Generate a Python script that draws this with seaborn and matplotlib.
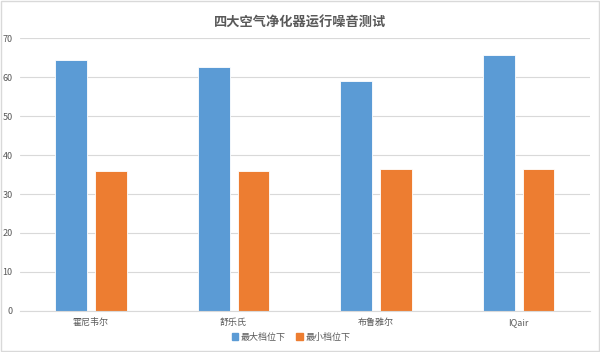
import seaborn as sns
import matplotlib.pyplot as plt
import matplotlib.patches as mpatches
import pandas as pd

brands = ['霍尼韦尔', '舒乐氏', '布鲁雅尔', 'IQair']
series = ['最大档位下', '最小档位下']
max_level = [64.3, 62.5, 58.9, 65.6]
min_level = [35.8, 35.8, 36.4, 36.4]
colors = ['#5B9BD5', '#ED7D31']

df = pd.DataFrame({
    'brand': brands * 2,
    'series': [series[0]] * 4 + [series[1]] * 4,
    'noise': max_level + min_level,
})

sns.set_style('white')
plt.rcParams['font.family'] = ['Noto Sans CJK SC', 'DejaVu Sans']

fig = plt.figure(figsize=(6, 3.52), dpi=100)
ax = fig.add_axes([0.033, 0.1165, 0.95, 0.7755])

sns.barplot(df, x='brand', y='noise', hue='series', palette=colors,
            saturation=1, width=0.56, gap=0.2, edgecolor='white',
            linewidth=0.6, legend=False, ax=ax)

ax.set_ylim(0, 70)
ax.set_yticks(range(0, 71, 10))
ax.set_xlim(-0.5, 3.5)
ax.yaxis.grid(True, color='#D9D9D9', linewidth=0.8)
ax.set_axisbelow(True)
for s in ['top', 'right', 'left']:
    ax.spines[s].set_visible(False)
ax.spines['bottom'].set_color('#D9D9D9')
ax.tick_params(axis='both', length=0, labelsize=6.5, colors='#595959', pad=5)
ax.set_xlabel('')
ax.set_ylabel('')

fig.suptitle('四大空气净化器运行噪音测试', y=0.955, fontsize=9.5,
             fontweight='bold', color='#595959')

handles = [mpatches.Patch(color=c, label=l) for c, l in zip(colors, series)]
fig.legend(handles=handles, loc='center', bbox_to_anchor=(0.485, 0.042),
           ncol=2, frameon=False, fontsize=6.5, labelcolor='#595959',
           handlelength=0.7, handleheight=0.7, handletextpad=0.3,
           columnspacing=1.2)

fig.patches.append(mpatches.Rectangle((0.002, 0.003), 0.996, 0.994,
                                      transform=fig.transFigure, fill=False,
                                      edgecolor='#D9D9D9', linewidth=1))

fig.savefig('out.png', dpi=100)
